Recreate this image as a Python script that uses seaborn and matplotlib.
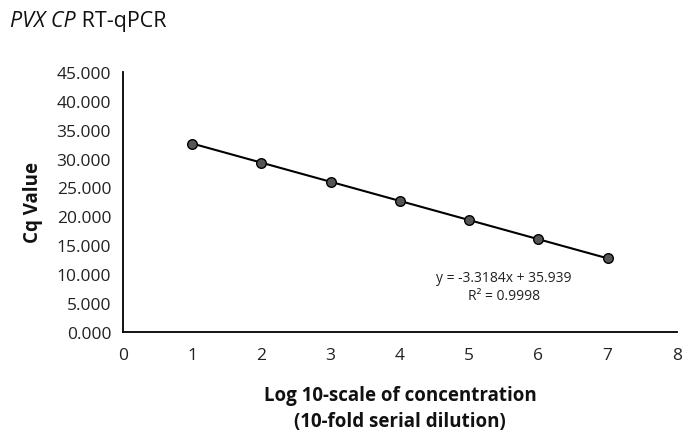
import numpy as np
import pandas as pd
import seaborn as sns
import matplotlib.pyplot as plt
from matplotlib.ticker import FormatStrFormatter

# data
log_conc = [1, 2, 3, 4, 5, 6, 7]
cq_values = [32.6, 29.3, 26.0, 22.7, 19.3, 16.0, 12.8]
x_ticks = [0, 1, 2, 3, 4, 5, 6, 7, 8]
y_ticks = [0, 5, 10, 15, 20, 25, 30, 35, 40, 45]
equation = "y = -3.3184x + 35.939"
r_squared = "R² = 0.9998"

FONT = ['Open Sans', 'DejaVu Sans']


def main():
    sns.set_theme(style='white')
    plt.rcParams['font.family'] = FONT

    df = pd.DataFrame({'log': log_conc, 'cq': cq_values})

    fig = plt.figure(figsize=(6.83, 4.39), dpi=100)
    ax = fig.add_axes([0.180, 0.2415, 0.811, 0.5925])

    sns.regplot(data=df, x='log', y='cq', ax=ax, scatter=False, ci=None,
                truncate=True, line_kws=dict(color='black', lw=1.5))
    sns.scatterplot(data=df, x='log', y='cq', ax=ax, s=48, color='#555555',
                    edgecolor='black', linewidth=1.0, zorder=3)

    ax.set_xlim(0, 8)
    ax.set_ylim(0, 45)
    ax.set_xticks(x_ticks)
    ax.set_yticks(y_ticks)
    ax.yaxis.set_major_formatter(FormatStrFormatter('%.3f'))
    ax.tick_params(axis='both', labelsize=12.5, length=5, width=1.2,
                   direction='out', color='black', labelcolor='#222222')
    ax.tick_params(axis='x', pad=6)
    for side in ['top', 'right']:
        ax.spines[side].set_visible(False)
    for side in ['left', 'bottom']:
        ax.spines[side].set_color('black')
        ax.spines[side].set_linewidth(1.3)

    ax.set_xlabel('Log 10-scale of concentration\n(10-fold serial dilution)',
                  fontsize=13.5, fontweight='bold', labelpad=16, linespacing=1.4,
                  color='#111111')
    ax.set_ylabel('Cq Value', fontsize=13.5, fontweight='bold', labelpad=10,
                  color='#111111')

    ax.text(5.5, 7.9, equation + '\n' + r_squared, ha='center', va='center',
            fontsize=10, color='#222222', linespacing=1.3)

    # title: italic gene name followed by plain text
    t1 = fig.text(0.015, 0.952, 'PVX CP', fontsize=15.5, style='italic',
                  va='center', ha='left', color='#111111')
    fig.canvas.draw()
    bb = t1.get_window_extent().transformed(fig.transFigure.inverted())
    fig.text(bb.x1, 0.952, ' RT-qPCR', fontsize=15.5, va='center', ha='left',
             color='#111111')

    fig.savefig('out.png', dpi=100)


if __name__ == "__main__":
    main()
